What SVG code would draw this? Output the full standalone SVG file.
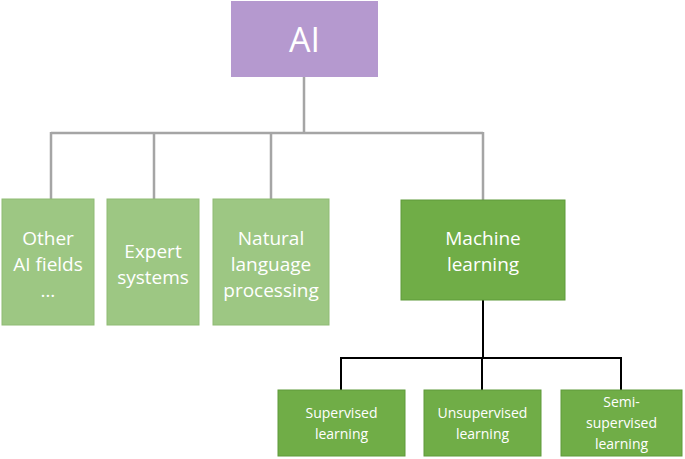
<svg xmlns="http://www.w3.org/2000/svg" width="685" height="459" viewBox="0 0 685 459">
<style>
text{font-family:"Open Sans","Liberation Sans",sans-serif;fill:#fff;text-anchor:middle}
.lg{fill:#9dc783;stroke:#8fbb75;stroke-width:1}
.dg{fill:#70ad47;stroke:#5f9a3a;stroke-width:1}
.m{font-size:19px}
.s{font-size:14px}
.g{stroke:#a5a5a5;stroke-width:2.5;fill:none}
.k{stroke:#000;stroke-width:2;fill:none}
</style>
<rect width="685" height="459" fill="#fff"/>
<g id="connectors">
<path class="g" d="M304 77V133M51 133H483M51 132V199M154 132V199M271 132V199M483 132V200"/>
<path class="k" d="M483 300V358M341 358H621M341 357V390M482 357V390M621 357V390"/>
</g>
<g id="ai"><rect x="231" y="1" width="147" height="76" fill="#b599cf"/><text x="304.5" y="52" style="font-size:34px">AI</text></g>
<g id="other"><rect class="lg" x="2" y="199" width="92" height="126"/><text class="m" x="48" y="245">Other</text><text class="m" x="48" y="271">AI fields</text><text class="m" x="48" y="297">…</text></g>
<g id="expert"><rect class="lg" x="107" y="199" width="92" height="126"/><text class="m" x="153" y="258">Expert</text><text class="m" x="153" y="284">systems</text></g>
<g id="nlp"><rect class="lg" x="213" y="199" width="116" height="126"/><text class="m" x="271" y="245">Natural</text><text class="m" x="271" y="271">language</text><text class="m" x="271" y="297">processing</text></g>
<g id="ml"><rect class="dg" x="401" y="200" width="164" height="100"/><text class="m" x="483" y="245">Machine</text><text class="m" x="483" y="271">learning</text></g>
<g id="sup"><rect class="dg" x="278" y="390" width="127" height="66"/><text class="s" x="341.5" y="418">Supervised</text><text class="s" x="341.5" y="439">learning</text></g>
<g id="unsup"><rect class="dg" x="424" y="390" width="117" height="66"/><text class="s" x="482.5" y="418">Unsupervised</text><text class="s" x="482.5" y="439">learning</text></g>
<g id="semi"><rect class="dg" x="561" y="390" width="121" height="66"/><text class="s" x="621.5" y="407">Semi-</text><text class="s" x="621.5" y="428">supervised</text><text class="s" x="621.5" y="449">learning</text></g>
</svg>
